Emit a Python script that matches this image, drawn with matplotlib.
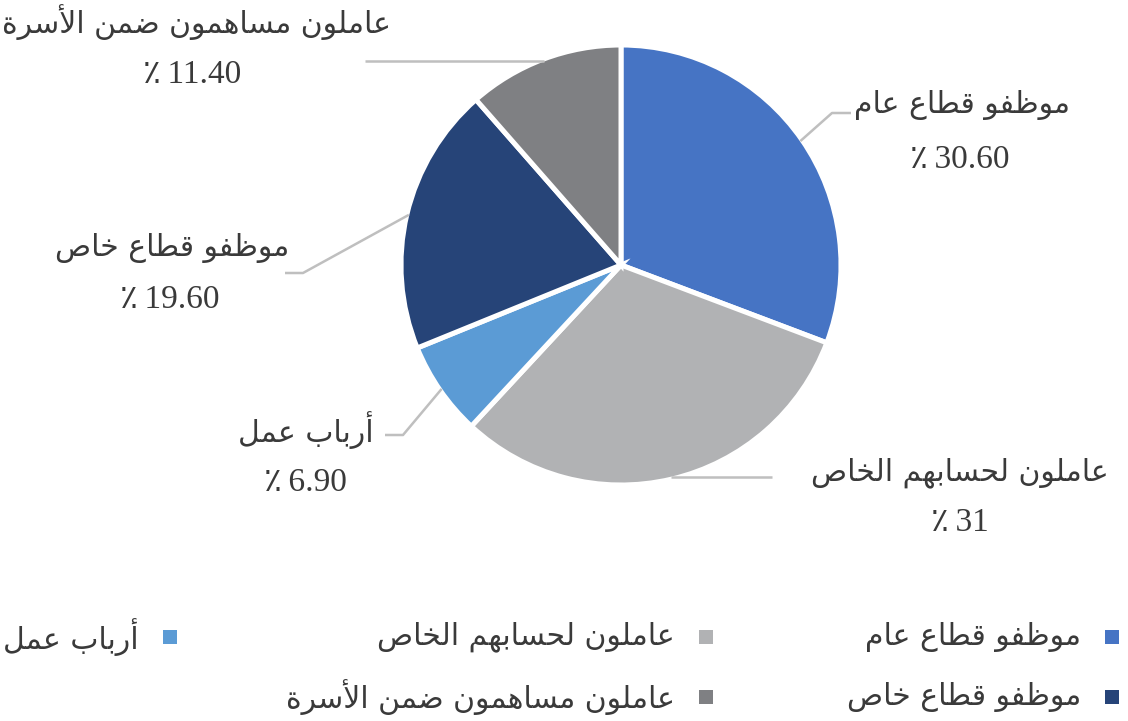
import numpy as np
import matplotlib
matplotlib.use('Agg')
import matplotlib.pyplot as plt

# ---------------------------------
# Data
# ---------------------------------
labels = ['موظفو قطاع عام', 'عاملون لحسابهم الخاص', 'أرباب عمل',
          'موظفو قطاع خاص', 'عاملون مساهمون ضمن الأسرة']
values = [30.60, 31, 6.90, 19.60, 11.40]
pct_text = ['30.60', '31', '6.90', '19.60', '11.40']
colors = ['#4674C4', '#B1B2B4', '#5B9BD5', '#264478', '#7F8083']

# legend order (rows, right to left)
legend_rows = [[0, 1, 2], [3, 4]]

# ---------------------------------
# Minimal Arabic shaping (no reshaper available)
# ---------------------------------
FORMS = {
    'ا': ('\uFE8D', '\uFE8E', None, None),
    'أ': ('\uFE83', '\uFE84', None, None),
    'ب': ('\uFE8F', '\uFE90', '\uFE91', '\uFE92'),
    'ة': ('\uFE93', '\uFE94', None, None),
    'ح': ('\uFEA1', '\uFEA2', '\uFEA3', '\uFEA4'),
    'خ': ('\uFEA5', '\uFEA6', '\uFEA7', '\uFEA8'),
    'ر': ('\uFEAD', '\uFEAE', None, None),
    'س': ('\uFEB1', '\uFEB2', '\uFEB3', '\uFEB4'),
    'ص': ('\uFEB9', '\uFEBA', '\uFEBB', '\uFEBC'),
    'ض': ('\uFEBD', '\uFEBE', '\uFEBF', '\uFEC0'),
    'ط': ('\uFEC1', '\uFEC2', '\uFEC3', '\uFEC4'),
    'ظ': ('\uFEC5', '\uFEC6', '\uFEC7', '\uFEC8'),
    'ع': ('\uFEC9', '\uFECA', '\uFECB', '\uFECC'),
    'ف': ('\uFED1', '\uFED2', '\uFED3', '\uFED4'),
    'ق': ('\uFED5', '\uFED6', '\uFED7', '\uFED8'),
    'ل': ('\uFEDD', '\uFEDE', '\uFEDF', '\uFEE0'),
    'م': ('\uFEE1', '\uFEE2', '\uFEE3', '\uFEE4'),
    'ن': ('\uFEE5', '\uFEE6', '\uFEE7', '\uFEE8'),
    'ه': ('\uFEE9', '\uFEEA', '\uFEEB', '\uFEEC'),
    'و': ('\uFEED', '\uFEEE', None, None),
    'لا': ('\uFEFB', '\uFEFC', None, None),
    'لأ': ('\uFEF7', '\uFEF8', None, None),
}


def shape(s):
    # merge lam-alef
    toks = []
    i = 0
    while i < len(s):
        if s[i] == 'ل' and i + 1 < len(s) and s[i + 1] in 'اأ':
            toks.append(s[i:i + 2])
            i += 2
        else:
            toks.append(s[i])
            i += 1
    out = []
    for k, t in enumerate(toks):
        if t not in FORMS:
            out.append(t)
            continue
        prev = toks[k - 1] if k > 0 else None
        nxt = toks[k + 1] if k + 1 < len(toks) else None
        join_prev = prev in FORMS and FORMS[prev][2] is not None
        join_next = FORMS[t][2] is not None and nxt in FORMS
        f = FORMS[t]
        if join_prev and join_next:
            out.append(f[3])
        elif join_prev:
            out.append(f[1])
        elif join_next:
            out.append(f[2])
        else:
            out.append(f[0])
    return ''.join(out)[::-1]


H = 721
text_col = '#3A3A3A'
line_col = '#BFBFBF'
fs = 21.5
fs_pct = 24

fig = plt.figure(figsize=(11.28, 7.21), dpi=100)
ax = fig.add_axes([0, 0, 1, 1])

cx, cy, R = 621, 265, 220
wedges, _ = ax.pie(values, colors=colors, startangle=90, counterclock=False,
                   center=(cx, H - cy), radius=R,
                   wedgeprops=dict(edgecolor='white', linewidth=3.6))
ax.set_xlim(0, 1128)
ax.set_ylim(0, H)
ax.set_aspect('equal')
ax.axis('off')

# label layout: (name centre, pct centre, leader path after edge point)
lab_pos = [
    ((962, 105), (960, 160), [(832, 113), (851, 113)]),
    ((960, 473), (960, 523), [(772, None)]),
    ((306, 430), (305, 483), [(403, 435), (385, 435)]),
    ((172, 248), (170, 300), [(303, 273), (285, 273)]),
    ((196, 22), (192, 75), [(365, None)]),
]

for w, lab, p, (npos, ppos, path) in zip(wedges, labels, pct_text, lab_pos):
    ang = np.deg2rad((w.theta1 + w.theta2) / 2)
    x0 = cx + (R - 2) * np.cos(ang)
    y0 = (H - cy) + (R - 2) * np.sin(ang)
    xs = [x0]
    ys = [y0]
    for (px, py) in path:
        xs.append(px)
        ys.append(y0 if py is None else H - py)
    ax.plot(xs, ys, color=line_col, lw=1.8, solid_capstyle='butt')
    ax.text(npos[0], H - npos[1], shape(lab), ha='center', va='center',
            fontsize=fs, color=text_col, family=['DejaVu Sans'])
    ax.text(ppos[0], H - ppos[1], '\u066A\u2009' + p, ha='center',
            va='center', fontsize=fs_pct, color=text_col,
            family=['Liberation Serif', 'DejaVu Sans'])

# legend (right to left)
col_x = [1112, 706, 170]
row_y = [637, 697]
for r, row in enumerate(legend_rows):
    for c, idx in enumerate(row):
        mx, my = col_x[c], H - row_y[r]
        ax.scatter([mx], [my], marker='s', s=110, color=colors[idx],
                   linewidths=0)
        ax.text(mx - 31, my, shape(labels[idx]), ha='right', va='center',
                fontsize=fs, color=text_col, family=['DejaVu Sans'])

fig.savefig('out.png', dpi=100)
